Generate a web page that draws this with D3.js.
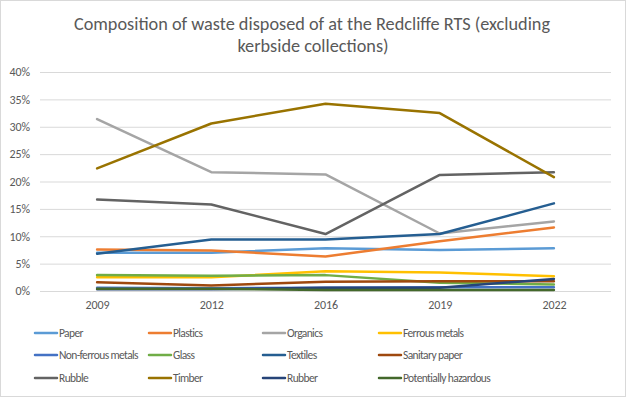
<!DOCTYPE html>
<html><head><meta charset="utf-8">
<script src="https://cdn.jsdelivr.net/npm/d3@7"></script>
<style>
body{margin:0;background:#fff;}
svg{display:block;}
text{font-family:Carlito,Calibri,Lato,sans-serif;fill:#595959;}
</style></head>
<body>
<svg id="c" width="626" height="397"></svg>
<script>
const years = ["2009","2012","2016","2019","2022"];
const seriesNames = ["Paper","Plastics","Organics","Ferrous metals","Non-ferrous metals","Glass","Textiles","Sanitary paper","Rubble","Timber","Rubber","Potentially hazardous"];
const seriesColors = ["#5B9BD5","#ED7D31","#A5A5A5","#FFC000","#4472C4","#70AD47","#255E91","#9E480E","#636363","#997300","#264478","#43682B"];
const paper = [7.0,7.0,7.8,7.5,7.8];
const plastics = [7.6,7.4,6.3,9.1,11.6];
const organics = [31.4,21.7,21.3,10.5,12.7];
const ferrousMetals = [2.5,2.5,3.6,3.4,2.7];
const nonFerrousMetals = [0.6,0.5,0.6,0.7,0.7];
const glass = [2.9,2.8,2.9,1.5,1.2];
const textiles = [6.8,9.4,9.4,10.4,16.0];
const sanitaryPaper = [1.6,1.0,1.7,1.8,1.8];
const rubble = [16.7,15.8,10.4,21.2,21.7];
const timber = [22.4,30.6,34.2,32.5,20.8];
const rubber = [0.3,0.3,0.6,0.6,2.2];
const potentiallyHazardous = [0.4,0.4,0.2,0.2,0.2];
const yTicks = [0,5,10,15,20,25,30,35,40];
const titleLines = ["Composition of waste disposed of at the Redcliffe RTS (excluding","kerbside collections)"];

const values = [paper,plastics,organics,ferrousMetals,nonFerrousMetals,glass,textiles,sanitaryPaper,rubble,timber,rubber,potentiallyHazardous];
const series = seriesNames.map((n,i)=>({name:n,color:seriesColors[i],values:values[i]}));

const svg = d3.select("#c");
const W=626,H=397;
svg.append("rect").attr("x",0.5).attr("y",0.5).attr("width",W-1).attr("height",H-1)
  .attr("fill","#fff").attr("stroke","#d9d9d9");

function textWidth(sample, size){
  const t = svg.append("text").style("font-size",size+"px").text(sample);
  const w = t.node().getComputedTextLength(); t.remove();
  return w;
}
const titleSize = 18.6*476/textWidth(titleLines[0],18.6);
const legendSize = 11.5;
const legendSpacing = (79 - textWidth("Non-ferrous metals",legendSize))/18;
const tickSize = 12;
const tickSpacing = (24 - textWidth("2009",tickSize))/4;

titleLines.forEach((l,i)=>{
  svg.append("text").attr("x",W/2+(i?0:-1)).attr("y",30+i*22).attr("text-anchor","middle")
    .style("font-size",titleSize+"px").text(l);
});

const x = d3.scalePoint().domain(years).range([40,611]).padding(0.5);
const y = d3.scaleLinear().domain([0,40]).range([291,72]);

svg.append("g").selectAll("line").data(yTicks).join("line")
  .attr("x1",40).attr("x2",611).attr("y1",d=>y(d)+0.5).attr("y2",d=>y(d)+0.5)
  .attr("stroke","#d9d9d9").attr("stroke-width",1);

const yAxis = svg.append("g").attr("transform","translate(40,0)")
  .call(d3.axisLeft(y).tickValues(yTicks).tickFormat(d=>d+"%").tickSize(0).tickPadding(10));
yAxis.select(".domain").remove();
yAxis.selectAll("text").style("font-size",tickSize+"px").style("letter-spacing",tickSpacing+"px")
  .style("font-family","Carlito,Calibri,Lato,sans-serif").attr("fill","#595959");

const xAxis = svg.append("g").attr("transform","translate(0,291)")
  .call(d3.axisBottom(x).tickSize(0).tickPadding(9));
xAxis.select(".domain").remove();
xAxis.selectAll("text").style("font-size",tickSize+"px").style("letter-spacing",tickSpacing+"px")
  .style("font-family","Carlito,Calibri,Lato,sans-serif").attr("fill","#595959");

const line = d3.line().x((d,i)=>x(years[i])).y(d=>y(d));
svg.append("g").selectAll("path").data(series).join("path")
  .attr("d",d=>line(d.values)).attr("fill","none").attr("stroke",d=>d.color)
  .attr("stroke-width",2.5).attr("stroke-linejoin","round").attr("stroke-linecap","round");

const colX=[35,149,263,379], rowY=[333,355,378];
const lg = svg.append("g");
series.forEach((s,i)=>{
  const cx=colX[i%4], cy=rowY[Math.floor(i/4)];
  lg.append("line").attr("x1",cx).attr("x2",cx+22).attr("y1",cy).attr("y2",cy)
    .attr("stroke",s.color).attr("stroke-width",2.5).attr("stroke-linecap","round");
  lg.append("text").attr("x",cx+24).attr("y",cy).attr("dy","0.35em")
    .style("font-size",legendSize+"px").style("letter-spacing",legendSpacing+"px").text(s.name);
});
</script>
</body></html>
